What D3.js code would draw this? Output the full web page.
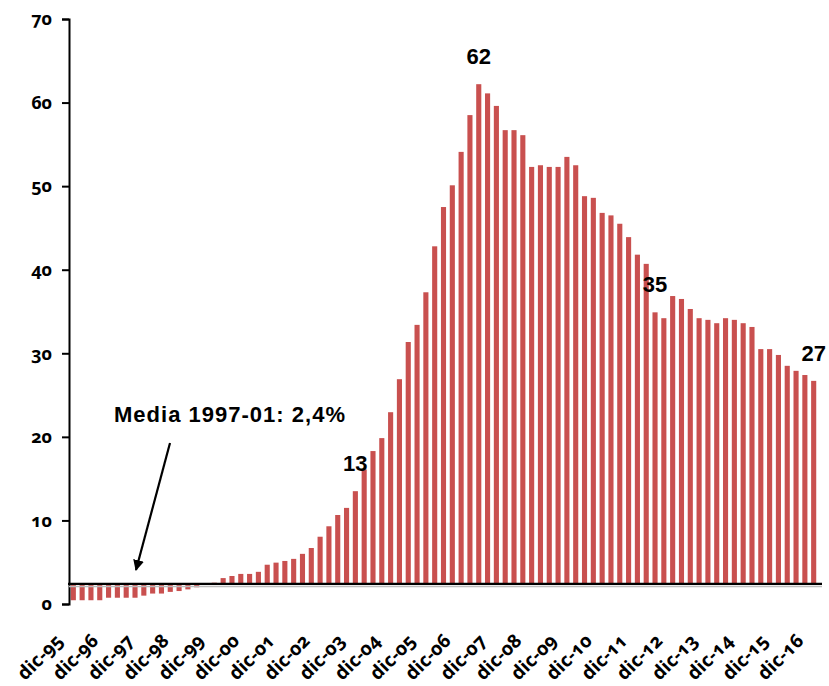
<!DOCTYPE html>
<html>
<head>
<meta charset="utf-8">
<script src="https://cdn.jsdelivr.net/npm/d3@7"></script>
<style>
  body { margin: 0; background: #fff; }
  .lab { font-family: 'Open Sans', Lato, sans-serif; font-weight: bold; font-variant-numeric: oldstyle-nums; }
</style>
</head>
<body>
<script>
const width = 829;
const height = 686;

// quarterly series, dic-95 .. dic-16
const months = ["mar", "jun", "sep", "dic"];
const years = ["96", "97", "98", "99", "00", "01", "02", "03", "04", "05", "06", "07", "08", "09", "10", "11", "12", "13", "14", "15", "16"];
const categories = ["dic-95"];
years.forEach(y => months.forEach(m => categories.push(m + "-" + y)));

const values = [
  0.45, 0.45, 0.45, 0.45, 0.75, 0.75, 0.75, 0.75, 1.0, 1.25,
  1.25, 1.45, 1.55, 1.75, 2.0, 2.35, 2.55, 3.1, 3.35, 3.6,
  3.6, 3.85, 4.7, 4.95, 5.15, 5.4, 6.0, 6.7, 8.05, 9.3,
  10.65, 11.5, 13.5, 16.1, 18.3, 19.85, 22.95, 26.9, 31.35, 33.4,
  37.3, 42.8, 47.5, 50.1, 54.1, 58.5, 62.2, 61.1, 59.6, 56.7,
  56.7, 56.1, 52.3, 52.5, 52.3, 52.3, 53.5, 52.5, 48.8, 48.6,
  46.8, 46.5, 45.5, 43.9, 41.8, 40.7, 34.9, 34.2, 36.85, 36.5,
  35.3, 34.2, 34.0, 33.6, 34.2, 34.0, 33.6, 33.15, 30.5, 30.5,
  29.8, 28.5, 27.9, 27.4, 26.7
];

const mean = 2.4;
const yTicks = [0, 10, 20, 30, 40, 50, 60, 70];
const xTickLabels = ["dic-95", "dic-96", "dic-97", "dic-98", "dic-99", "dic-00", "dic-01", "dic-02", "dic-03", "dic-04", "dic-05", "dic-06", "dic-07", "dic-08", "dic-09", "dic-10", "dic-11", "dic-12", "dic-13", "dic-14", "dic-15", "dic-16"];
const callouts = [
  { cat: "dic-03", text: "13" },
  { cat: "jun-07", text: "62" },
  { cat: "jun-12", text: "35" },
  { cat: "dic-16", text: "27" }
];
const meanLabel = "Media 1997-01: 2,4%";

const svg = d3.select("body")
  .append("svg")
  .attr("width", width)
  .attr("height", height);

const x = d3.scaleBand()
  .domain(categories)
  .range([69, 818])
  .paddingInner(0.42)
  .paddingOuter(0.2);

const y = d3.scaleLinear()
  .domain([0, 70])
  .range([604, 19]);

// bars hang from the mean line
svg.append("g")
  .selectAll("rect")
  .data(values)
  .join("rect")
  .attr("x", (d, i) => x(categories[i]))
  .attr("y", d => Math.min(y(d), y(mean)))
  .attr("width", x.bandwidth())
  .attr("height", d => Math.abs(y(d) - y(mean)))
  .attr("fill", "#C9504F");

// y axis
const yAxis = svg.append("g")
  .attr("transform", "translate(69,0)")
  .call(d3.axisLeft(y).tickValues(yTicks).tickSize(7).tickPadding(10).tickFormat(d3.format("d")));
yAxis.select(".domain").attr("stroke", "#000").attr("stroke-width", 2);
yAxis.selectAll(".tick line").attr("stroke", "#000").attr("stroke-width", 2);
yAxis.selectAll("text")
  .attr("class", "lab")
  .attr("font-size", 18)
  .attr("fill", "#000");

// mean line acting as x axis
svg.append("line")
  .attr("x1", 69).attr("x2", 822)
  .attr("y1", y(mean) + 2.5).attr("y2", y(mean) + 2.5)
  .attr("stroke", "#bbb").attr("stroke-width", 1.5);
svg.append("line")
  .attr("x1", 68).attr("x2", 822)
  .attr("y1", y(mean)).attr("y2", y(mean))
  .attr("stroke", "#000").attr("stroke-width", 2.2);

// x labels every 4 quarters
svg.append("g")
  .selectAll("text")
  .data(xTickLabels)
  .join("text")
  .attr("class", "lab")
  .attr("transform", d => `translate(${x(d) + x.bandwidth() / 2 - 9},642) rotate(-45)`)
  .attr("text-anchor", "end")
  .attr("font-size", 19)
  .attr("fill", "#000")
  .text(d => d);

// value callouts
svg.append("g")
  .selectAll("text")
  .data(callouts)
  .join("text")
  .attr("x", d => x(d.cat) + x.bandwidth() / 2)
  .attr("y", d => y(values[categories.indexOf(d.cat)]) - 20)
  .attr("text-anchor", "middle")
  .attr("font-family", "'Liberation Sans', Arial, sans-serif")
  .attr("font-weight", "bold")
  .attr("font-size", 22)
  .attr("fill", "#000")
  .text(d => d.text);

// mean annotation with arrow
svg.append("defs").append("marker")
  .attr("id", "head")
  .attr("viewBox", "0 0 10 10")
  .attr("refX", 9).attr("refY", 5)
  .attr("markerWidth", 5).attr("markerHeight", 5)
  .attr("orient", "auto")
  .append("path")
  .attr("d", "M0,0L10,5L0,10Z")
  .attr("fill", "#000");

svg.append("text")
  .attr("x", 114)
  .attr("y", 422)
  .attr("font-family", "'Liberation Sans', Arial, sans-serif")
  .attr("font-weight", "bold")
  .attr("font-size", 22)
  .attr("textLength", 231)
  .attr("lengthAdjust", "spacing")
  .attr("fill", "#000")
  .text(meanLabel);

svg.append("line")
  .attr("x1", 170).attr("y1", 443)
  .attr("x2", 136).attr("y2", 570)
  .attr("stroke", "#000")
  .attr("stroke-width", 2.2)
  .attr("marker-end", "url(#head)");
</script>
</body>
</html>
